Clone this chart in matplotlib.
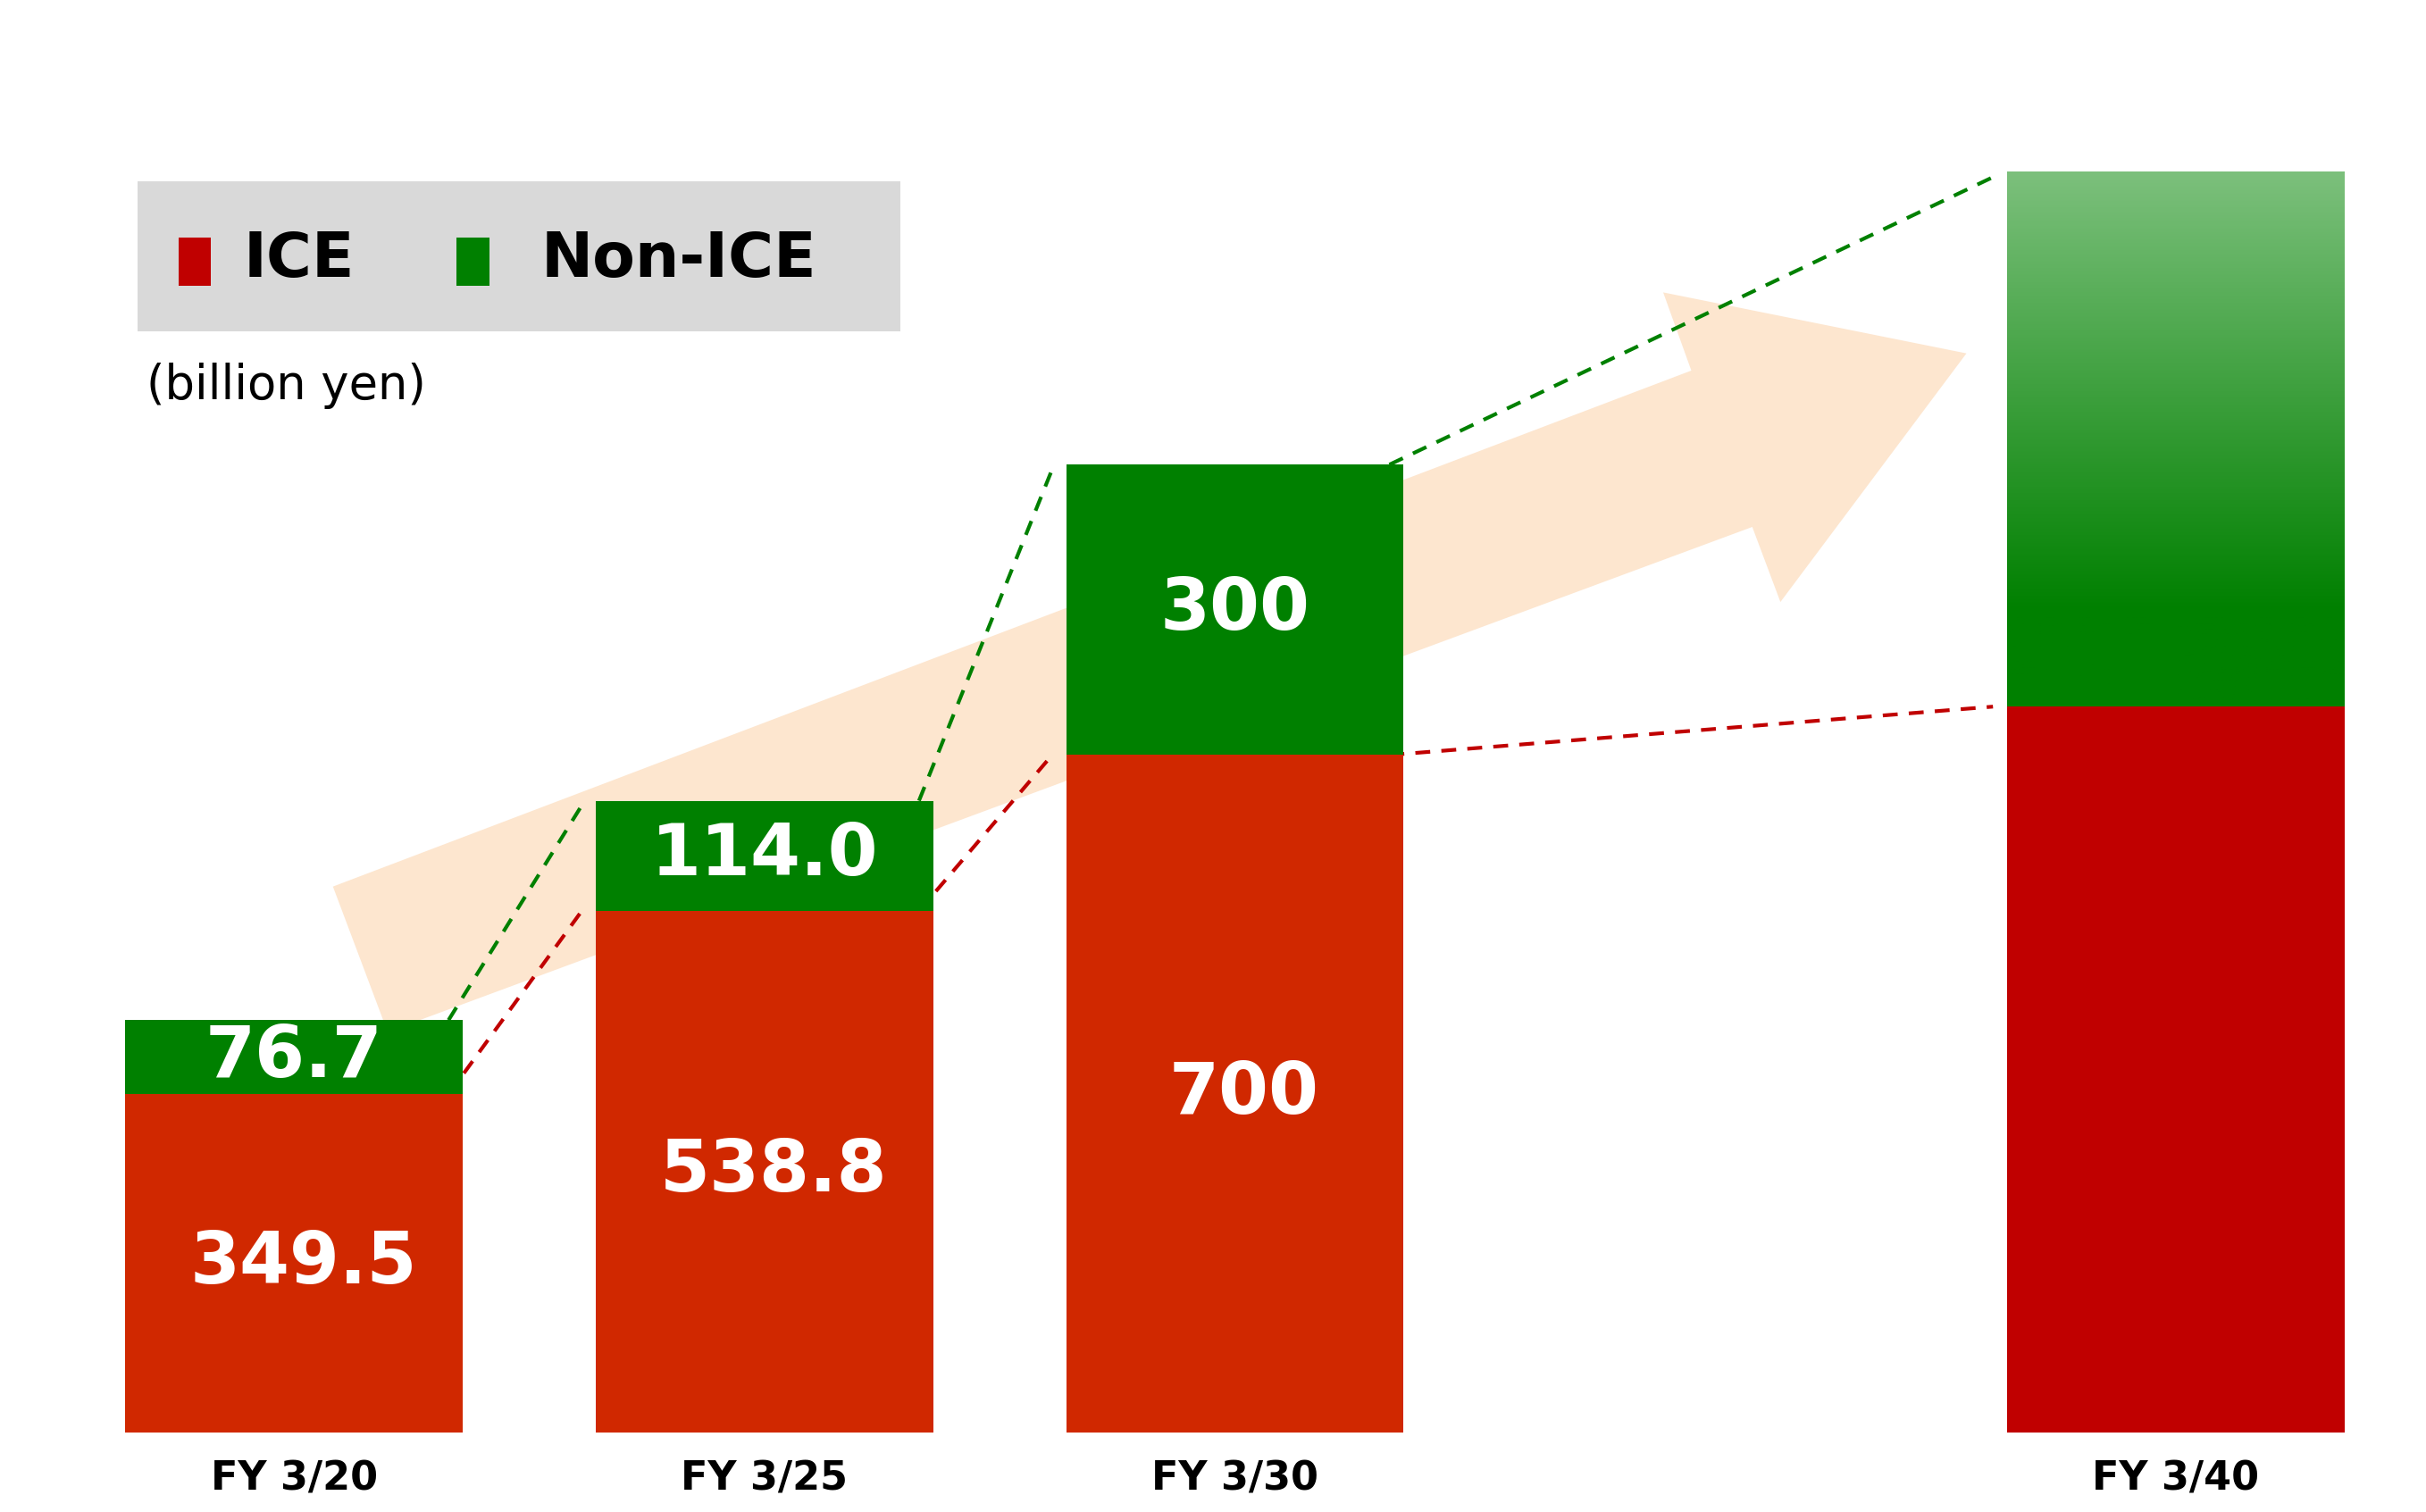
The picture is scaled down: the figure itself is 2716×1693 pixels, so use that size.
import matplotlib.pyplot as plt
import numpy as np
from matplotlib.patches import Polygon, Rectangle
from matplotlib.colors import LinearSegmentedColormap

# data
years = ['FY 3/20', 'FY 3/25', 'FY 3/30', 'FY 3/40']
xpos = [0, 1, 2, 4]
ice = [349.5, 538.8, 700, 750]
non_ice = [76.7, 114.0, 300, 552]
ice_labels = ['349.5', '538.8', '700', '']
non_labels = ['76.7', '114.0', '300', '']

red = '#D02800'
red40 = '#C00000'
green = '#008000'
w = 0.717

fig = plt.figure(figsize=(27.16, 16.93), dpi=100)
ax = fig.add_axes([0, 0, 1, 1])
ax.set_xlim(-0.625, 4.532)
ax.set_ylim(-82, 1480)
ax.axis('off')

# big background arrow (pixel coords of 1552x967 layout -> axes fraction)
arrow_px = [(213, 567), (1082, 237), (1064, 187), (1258, 226), (1139, 385),
            (1121, 337), (248, 660)]
arrow = [(x / 1552, 1 - y / 967) for x, y in arrow_px]
ax.add_patch(Polygon(arrow, closed=True, transform=ax.transAxes,
                     facecolor='#FDE6CF', edgecolor='none', zorder=0))

cols = [red, red, red, red40]
ax.bar(xpos[:3], ice[:3], width=w, color=cols[:3], zorder=2)
ax.bar(xpos[:3], non_ice[:3], bottom=ice[:3], width=w, color=green, zorder=2)
ax.bar(xpos[3], ice[3], width=w, color=red40, zorder=2)

# gradient for FY 3/40 non-ICE
cmap = LinearSegmentedColormap.from_list('g', [(0, green), (0.18, green), (1, '#7CC07C')])
grad = np.linspace(0, 1, 256).reshape(-1, 1)
ax.imshow(grad, cmap=cmap, origin='lower', aspect='auto', zorder=2,
          extent=[xpos[3] - w / 2, xpos[3] + w / 2, ice[3], ice[3] + non_ice[3]])

for x, a, n, la, ln in zip(xpos, ice, non_ice, ice_labels, non_labels):
    if la:
        ax.text(x + 0.02, a / 2, la, ha='center', va='center', color='white',
                fontsize=58, fontweight='bold', zorder=3)
        ax.text(x, a + n / 2, ln, ha='center', va='center', color='white',
                fontsize=58, fontweight='bold', zorder=3)
    ax.text(x, -48, years[xpos.index(x)], ha='center', va='center',
            fontsize=32, fontweight='bold')

# dashed connector lines
for i in range(3):
    x0 = xpos[i] + w / 2 - 0.03
    x1 = xpos[i + 1] - w / 2 - 0.03
    ax.plot([x0, x1], [ice[i] + non_ice[i], ice[i + 1] + non_ice[i + 1] - 5],
            ls='--', color=green, lw=3, zorder=1, dashes=(4, 3))
    ax.plot([x0, x1], [ice[i], ice[i + 1]], ls='--', color=red40, lw=3,
            zorder=1, dashes=(4, 3))

# legend box
ax.add_patch(Rectangle((88 / 1552, 1 - 212 / 967), 488 / 1552, 96 / 967,
                       transform=ax.transAxes, facecolor='#D9D9D9',
                       edgecolor='none', zorder=3))
ax.add_patch(Rectangle((114 / 1552, 1 - 183 / 967), 21 / 1552, 31 / 967,
                       transform=ax.transAxes, facecolor=red40, zorder=4))
ax.add_patch(Rectangle((292 / 1552, 1 - 183 / 967), 21 / 1552, 31 / 967,
                       transform=ax.transAxes, facecolor=green, zorder=4))
ax.text(156 / 1552, 1 - 166 / 967, 'ICE', transform=ax.transAxes, va='center',
        fontsize=50, fontweight='bold', zorder=4)
ax.text(346 / 1552, 1 - 166 / 967, 'Non-ICE', transform=ax.transAxes,
        va='center', fontsize=50, fontweight='bold', zorder=4)
ax.text(94 / 1552, 1 - 247 / 967, '(billion yen)', transform=ax.transAxes,
        va='center', fontsize=38)

fig.savefig('out.png', dpi=100)
